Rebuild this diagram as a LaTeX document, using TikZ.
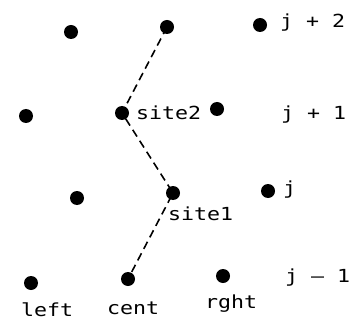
\documentclass[tikz,border=0pt]{standalone}
\usepackage{fontspec}
\newfontfamily\labfont[FakeStretch=1.2]{DejaVu Sans Mono}
\tikzset{
  dot/.style={circle,fill=black,inner sep=0pt,minimum size=14pt},
  lab/.style={inner sep=0pt,anchor=base west,font=\labfont\fontsize{18}{20}\selectfont},
  link/.style={dashed,dash pattern=on 8pt off 5pt,line width=1.6pt}
}
\begin{document}
\begin{tikzpicture}[x=1pt,y=-1pt]
\useasboundingbox (0,0) rectangle (352,320);
% row j+2
\node[dot] (a1) at (71,32) {};
\node[dot] (a2) at (167,27) {};
\node[dot] (a3) at (260,25) {};
% row j+1
\node[dot] (b1) at (26,116) {};
\node[dot] (b2) at (122,113) {};
\node[dot] (b3) at (217,109) {};
% row j
\node[dot] (c1) at (77,198) {};
\node[dot] (c2) at (173,193) {};
\node[dot] (c3) at (268,191) {};
% row j-1
\node[dot] (d1) at (31,283) {};
\node[dot] (d2) at (128,279) {};
\node[dot] (d3) at (223,276) {};
% connectors
\draw[link] (a2.center) -- (b2.center) -- (c2.center) -- (d2.center);
% labels
\node[lab] (lj2) at (280,28) {j + 2};
\node[lab] (lj1) at (281,120) {j + 1};
\node[lab] (ls2) at (136,120) {site2};
\node[lab] (lj0) at (283,194) {j};
\node[lab] (ls1) at (168,220) {site1};
\node[lab] (ljm) at (285,282) {j — 1};
\node[lab] (lleft) at (21,316) {left};
\node[lab] (lcent) at (107,314) {cent};
\node[lab] (lrght) at (205,308) {rght};
\end{tikzpicture}
\end{document}
